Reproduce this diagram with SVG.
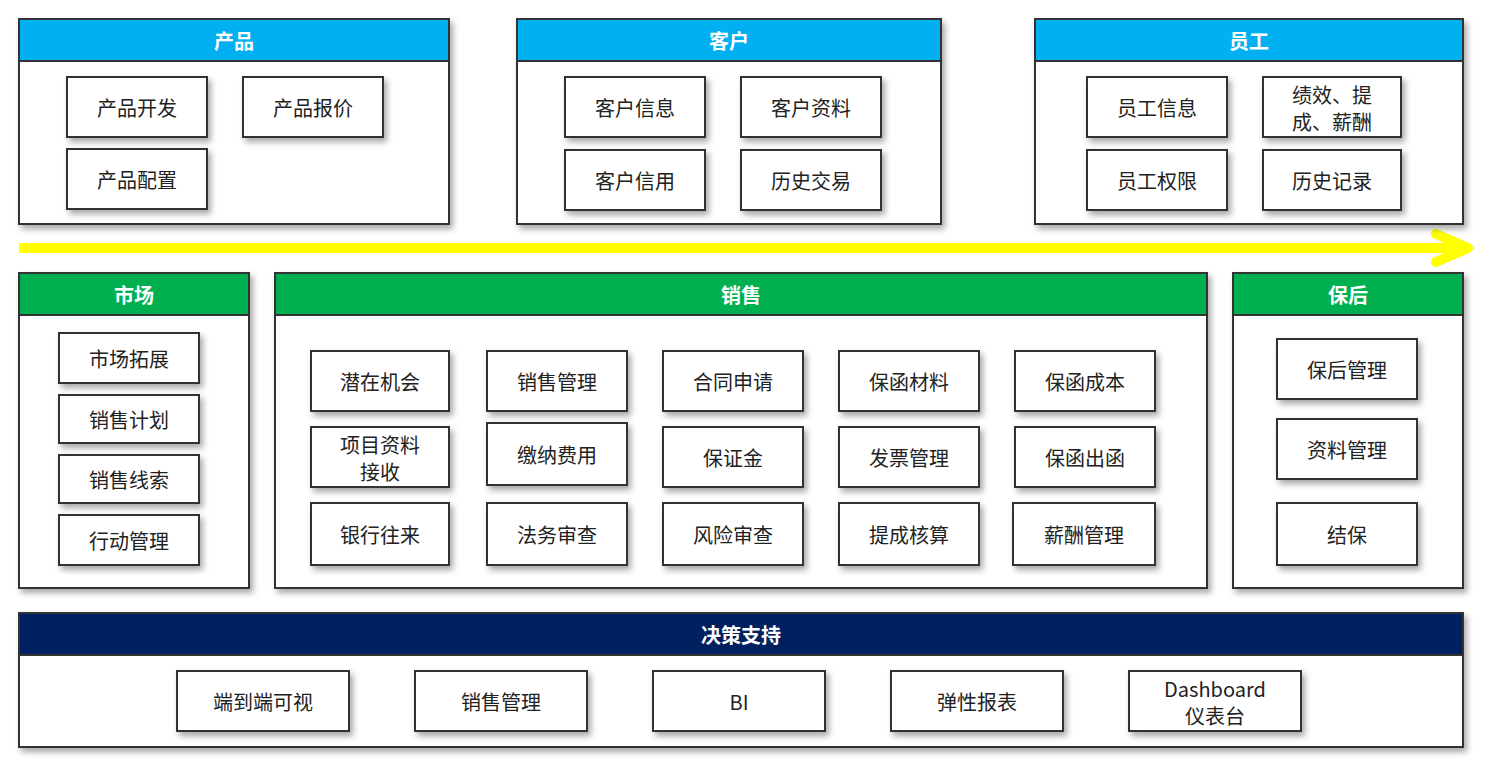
<svg xmlns="http://www.w3.org/2000/svg" width="1494" height="772" viewBox="0 0 1494 772">
<defs>
<filter id="sh" x="-10%" y="-10%" width="130%" height="130%"><feDropShadow dx="3" dy="4" stdDeviation="3" flood-color="#000" flood-opacity="0.35"/></filter>
<style>
.p{fill:#fff;stroke:#333;stroke-width:2;filter:url(#sh)}
.b{fill:#fff;stroke:#333;stroke-width:2;filter:url(#sh)}
.hb{fill:#00b0f0;stroke:#333;stroke-width:2}
.hg{fill:#00b050;stroke:#333;stroke-width:2}
.hn{fill:#002060;stroke:#333;stroke-width:2}
.ht{font-family:"Noto Sans CJK SC","Noto Sans",sans-serif;font-size:20px;font-weight:bold;fill:#fff;text-anchor:middle;dominant-baseline:central}
.t{font-family:"Noto Sans CJK SC","Noto Sans",sans-serif;font-size:20px;fill:#222;text-anchor:middle;dominant-baseline:central}
</style>
</defs>
<rect width="1494" height="772" fill="#fff"/>
<g id="connectors">
<line x1="19" y1="248" x2="1466" y2="248" stroke="#ffff00" stroke-width="10"/>
<polyline points="1436,234 1468,248 1436,262" fill="none" stroke="#ffff00" stroke-width="10" stroke-linecap="round" stroke-linejoin="round"/>
</g>
<g id="product">
<rect class="p" x="19" y="19" width="430" height="205"/><rect class="hb" x="19" y="19" width="430" height="42"/><text class="ht" x="234" y="40">产品</text>
<rect class="b" x="67" y="77" width="140" height="60"/><text class="t" x="137" y="107">产品开发</text>
<rect class="b" x="243" y="77" width="140" height="60"/><text class="t" x="313" y="107">产品报价</text>
<rect class="b" x="67" y="149" width="140" height="60"/><text class="t" x="137" y="179">产品配置</text>
</g>
<g id="customer">
<rect class="p" x="517" y="19" width="424" height="205"/><rect class="hb" x="517" y="19" width="424" height="42"/><text class="ht" x="729" y="40">客户</text>
<rect class="b" x="565" y="77" width="140" height="60"/><text class="t" x="635" y="107">客户信息</text>
<rect class="b" x="741" y="77" width="140" height="60"/><text class="t" x="811" y="107">客户资料</text>
<rect class="b" x="565" y="150" width="140" height="60"/><text class="t" x="635" y="180">客户信用</text>
<rect class="b" x="741" y="150" width="140" height="60"/><text class="t" x="811" y="180">历史交易</text>
</g>
<g id="employee">
<rect class="p" x="1035" y="19" width="428" height="205"/><rect class="hb" x="1035" y="19" width="428" height="42"/><text class="ht" x="1249" y="40">员工</text>
<rect class="b" x="1087" y="77" width="140" height="60"/><text class="t" x="1157" y="107">员工信息</text>
<rect class="b" x="1263" y="77" width="138" height="60"/><text class="t" x="1332" y="94">绩效、提</text><text class="t" x="1332" y="121">成、薪酬</text>
<rect class="b" x="1087" y="150" width="140" height="60"/><text class="t" x="1157" y="180">员工权限</text>
<rect class="b" x="1263" y="150" width="138" height="60"/><text class="t" x="1332" y="180">历史记录</text>
</g>
<g id="market">
<rect class="p" x="19" y="273" width="230" height="315"/><rect class="hg" x="19" y="273" width="230" height="42"/><text class="ht" x="134" y="294">市场</text>
<rect class="b" x="59" y="333" width="140" height="50"/><text class="t" x="129" y="358">市场拓展</text>
<rect class="b" x="59" y="395" width="140" height="48"/><text class="t" x="129" y="419">销售计划</text>
<rect class="b" x="59" y="455" width="140" height="48"/><text class="t" x="129" y="479">销售线索</text>
<rect class="b" x="59" y="515" width="140" height="50"/><text class="t" x="129" y="540">行动管理</text>
</g>
<g id="sales">
<rect class="p" x="275" y="273" width="932" height="315"/><rect class="hg" x="275" y="273" width="932" height="42"/><text class="ht" x="741" y="294">销售</text>
<rect class="b" x="311" y="351" width="138" height="60"/><text class="t" x="380" y="381">潜在机会</text>
<rect class="b" x="487" y="351" width="140" height="60"/><text class="t" x="557" y="381">销售管理</text>
<rect class="b" x="663" y="351" width="140" height="60"/><text class="t" x="733" y="381">合同申请</text>
<rect class="b" x="839" y="351" width="140" height="60"/><text class="t" x="909" y="381">保函材料</text>
<rect class="b" x="1015" y="351" width="140" height="60"/><text class="t" x="1085" y="381">保函成本</text>
<rect class="b" x="311" y="427" width="138" height="60"/><text class="t" x="380" y="444">项目资料</text><text class="t" x="380" y="471">接收</text>
<rect class="b" x="487" y="423" width="140" height="62"/><text class="t" x="557" y="454">缴纳费用</text>
<rect class="b" x="663" y="427" width="140" height="60"/><text class="t" x="733" y="457">保证金</text>
<rect class="b" x="839" y="427" width="140" height="60"/><text class="t" x="909" y="457">发票管理</text>
<rect class="b" x="1015" y="427" width="140" height="60"/><text class="t" x="1085" y="457">保函出函</text>
<rect class="b" x="311" y="503" width="138" height="62"/><text class="t" x="380" y="534">银行往来</text>
<rect class="b" x="487" y="503" width="140" height="62"/><text class="t" x="557" y="534">法务审查</text>
<rect class="b" x="663" y="503" width="140" height="62"/><text class="t" x="733" y="534">风险审查</text>
<rect class="b" x="839" y="503" width="140" height="62"/><text class="t" x="909" y="534">提成核算</text>
<rect class="b" x="1013" y="503" width="142" height="62"/><text class="t" x="1084" y="534">薪酬管理</text>
</g>
<g id="aftercare">
<rect class="p" x="1233" y="273" width="230" height="315"/><rect class="hg" x="1233" y="273" width="230" height="42"/><text class="ht" x="1348" y="294">保后</text>
<rect class="b" x="1277" y="339" width="140" height="60"/><text class="t" x="1347" y="369">保后管理</text>
<rect class="b" x="1277" y="419" width="140" height="60"/><text class="t" x="1347" y="449">资料管理</text>
<rect class="b" x="1277" y="503" width="140" height="62"/><text class="t" x="1347" y="534">结保</text>
</g>
<g id="decision">
<rect class="p" x="19" y="613" width="1444" height="134"/><rect class="hn" x="19" y="613" width="1444" height="42"/><text class="ht" x="741" y="634">决策支持</text>
<rect class="b" x="177" y="671" width="172" height="60"/><text class="t" x="263" y="701">端到端可视</text>
<rect class="b" x="415" y="671" width="172" height="60"/><text class="t" x="501" y="701">销售管理</text>
<rect class="b" x="653" y="671" width="172" height="60"/><text class="t" x="739" y="701">BI</text>
<rect class="b" x="891" y="671" width="172" height="60"/><text class="t" x="977" y="701">弹性报表</text>
<rect class="b" x="1129" y="671" width="172" height="60"/><text class="t" x="1215" y="688">Dashboard</text><text class="t" x="1215" y="715">仪表台</text>
</g>
</svg>
